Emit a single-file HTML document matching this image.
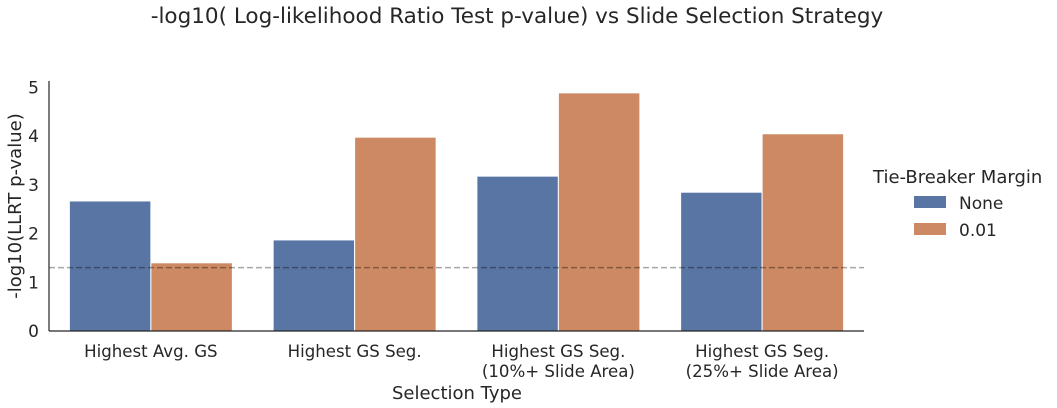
<!DOCTYPE html>
<html><head><meta charset="utf-8"><style>
body{margin:0;background:#fff;}
svg{display:block;font-family:"DejaVu Sans","Liberation Sans",sans-serif;fill:#262626;}
</style></head><body>
<svg id="chart" width="1057" height="408" xmlns="http://www.w3.org/2000/svg">
<text x="517" y="23" text-anchor="middle" font-size="21.5">-log10( Log-likelihood Ratio Test p-value) vs Slide Selection Strategy</text>
<g id="plot"></g>
<text x="457" y="399" text-anchor="middle" font-size="18">Selection Type</text>
<text transform="translate(21,206) rotate(-90)" text-anchor="middle" font-size="18">-log10(LLRT p-value)</text>
<g>
<text x="873" y="183" font-size="18">Tie-Breaker Margin</text>
<rect x="914" y="196" width="32" height="12" fill="#5875a4"/>
<text x="959" y="209" font-size="17">None</text>
<rect x="914" y="223" width="32" height="12" fill="#cc8963"/>
<text x="959" y="236" font-size="17">0.01</text>
</g>
</svg>
<script>
const categories=[["Highest Avg. GS"],["Highest GS Seg."],["Highest GS Seg.","(10%+ Slide Area)"],["Highest GS Seg.","(25%+ Slide Area)"]];
const noneValues=[2.67,1.87,3.18,2.85];
const marginValues=[1.40,3.98,4.89,4.05];
const yTicks=[0,1,2,3,4,5];
const threshold=1.301;
const NS="http://www.w3.org/2000/svg";
const g=document.getElementById('plot');
const x0=49,x1=864,yBase=331,yTop=81,unit=48.7;
const y=v=>yBase-v*unit;
const gw=(x1-x0)/categories.length, bw=gw*0.4;
function mk(t,a){const e=document.createElementNS(NS,t);for(const k in a)e.setAttribute(k,a[k]);g.appendChild(e);return e;}
categories.forEach((c,i)=>{
  const cx=x0+gw*(i+0.5);
  let r=mk('rect',{x:cx-bw,y:y(noneValues[i]),width:bw,height:yBase-y(noneValues[i]),fill:'#5875a4',stroke:'#fff','stroke-width':1});
  
  
  r=mk('rect',{x:cx,y:y(marginValues[i]),width:bw,height:yBase-y(marginValues[i]),fill:'#cc8963',stroke:'#fff','stroke-width':1});
  
  
  c.forEach((ln,j)=>{
    const t=mk('text',{x:cx,y:357+j*20,'text-anchor':'middle','font-size':16.6});
    t.textContent=ln;
    
    
  });
});
yTicks.forEach(v=>{
  const t=mk('text',{x:39,y:y(v)+6,'text-anchor':'end','font-size':17});
  t.textContent=v;
  
  
});
let l=mk('line',{x1:x0,x2:x1,y1:y(threshold),y2:y(threshold),stroke:'#000','stroke-opacity':0.35,'stroke-width':1.5,'stroke-dasharray':'6,3'});


l=mk('line',{x1:x0,x2:x0,y1:yTop,y2:yBase,stroke:'#262626','stroke-width':1.2});


l=mk('line',{x1:x0,x2:x1,y1:yBase,y2:yBase,stroke:'#262626','stroke-width':1.2});


</script>
</body></html>
